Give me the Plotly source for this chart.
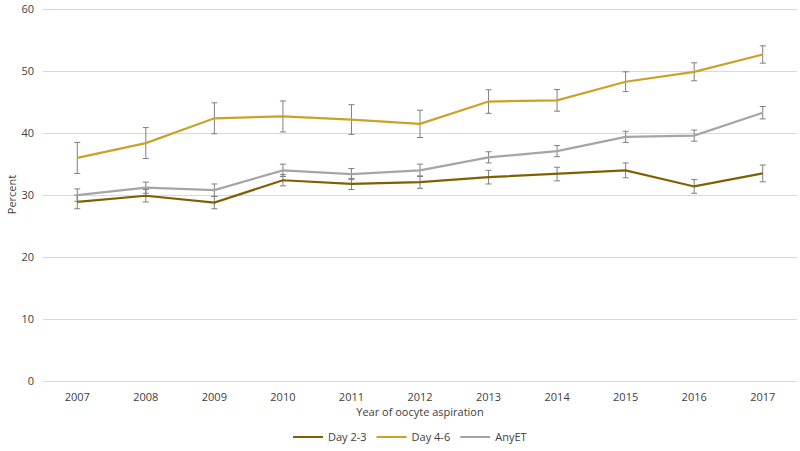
import plotly.graph_objects as go

years = ["2007", "2008", "2009", "2010", "2011", "2012", "2013", "2014", "2015", "2016", "2017"]

day23 = [28.9, 29.9, 28.8, 32.4, 31.8, 32.1, 32.9, 33.4, 34.0, 31.4, 33.5]
day23_err = [1.1, 1.0, 1.0, 0.9, 0.9, 1.0, 1.1, 1.1, 1.2, 1.1, 1.35]

day46 = [36.0, 38.4, 42.4, 42.7, 42.2, 41.5, 45.1, 45.3, 48.3, 49.9, 52.7]
day46_err = [2.5, 2.5, 2.5, 2.5, 2.4, 2.2, 1.9, 1.75, 1.6, 1.45, 1.4]

anyet = [30.0, 31.2, 30.8, 34.0, 33.4, 34.0, 36.1, 37.1, 39.4, 39.6, 43.3]
anyet_err = [1.0, 0.9, 1.0, 1.0, 0.9, 1.0, 0.9, 0.9, 0.9, 0.9, 1.0]

series = [
    ("Day 2-3", day23, day23_err, "#7f6000"),
    ("Day 4-6", day46, day46_err, "#c9a227"),
    ("AnyET", anyet, anyet_err, "#a5a5a5"),
]

fig = go.Figure()
for name, vals, err, color in series:
    fig.add_trace(go.Scatter(
        x=years, y=vals, name=name, mode="lines",
        line=dict(color=color, width=2.2),
        error_y=dict(type="data", array=err, visible=True,
                     color="#7f7f7f", thickness=1, width=3),
    ))

font = "Open Sans, Liberation Sans, sans-serif"
fig.update_layout(
    width=800, height=451,
    margin=dict(l=43, r=3, t=8, b=70, autoexpand=False),
    paper_bgcolor="white", plot_bgcolor="white",
    font=dict(family=font, size=11, color="#404040"),
    showlegend=True,
    legend=dict(orientation="h", xref="container", x=0.5125, xanchor="center",
                yref="container", y=0.031, yanchor="middle",
                font=dict(size=11, color="#404040"), itemwidth=30),
    xaxis=dict(type="category", range=[-0.5, 10.5], showgrid=False,
               showline=False, zeroline=False, ticks="", automargin=False,
               ticklabelstandoff=8,
               title=dict(text="Year of oocyte aspiration", standoff=3,
                          font=dict(size=11, color="#404040")),
               tickfont=dict(size=11, color="#404040")),
    yaxis=dict(range=[0, 60.2], dtick=10, showgrid=True, gridcolor="#d9d9d9",
               gridwidth=1, zeroline=True, zerolinecolor="#d9d9d9", zerolinewidth=1,
               showline=False, ticks="", ticklabelstandoff=8, automargin=False,
               ticklabeloverflow="allow",
               title=dict(text="Percent", standoff=2,
                          font=dict(size=11, color="#404040")),
               tickfont=dict(size=11, color="#404040")),
)

fig.write_html("out.html", config={"displayModeBar": False},
               post_script="document.body.style.margin='0';")
